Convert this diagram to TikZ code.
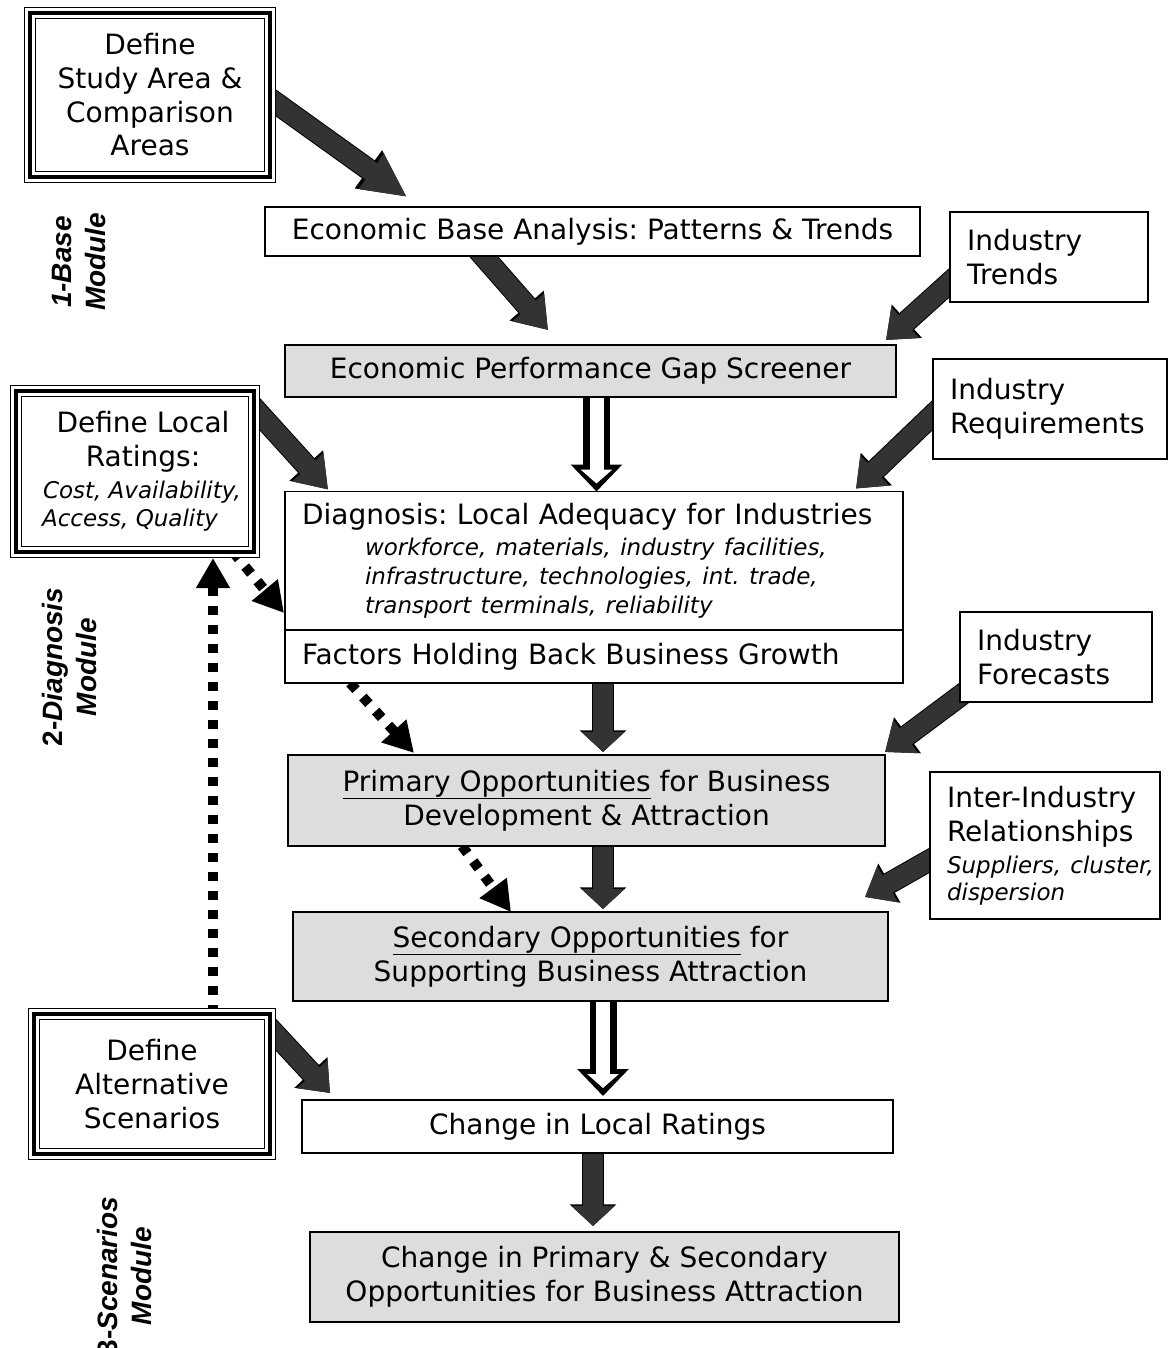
\documentclass[tikz,border=0pt]{standalone}
\usepackage{fontspec}
\setmainfont{DejaVu Sans}
\newfontfamily\labelfont{Liberation Sans}
\usetikzlibrary{%
  arrows.meta%
}
\definecolor{boxgray}{RGB}{221,221,221}
\definecolor{arrowgray}{RGB}{51,51,51}
\newcommand{\smallit}{\fontsize{23}{29}\selectfont\itshape}
\pgfdeclarelayer{bg}
\pgfsetlayers{bg,main}

\begin{document}
\frenchspacing
\begin{tikzpicture}[x=1pt,y=-1pt,
    box/.style={draw,line width=1.5pt,fill=white,inner sep=0pt,outer sep=0pt,
      font=\fontsize{28}{33.7}\selectfont,align=center},
    graybox/.style={box,fill=boxgray},
    sidebox/.style={box,align=left,inner xsep=17pt},
    triplebox/.style={preaction={fill=white},preaction={draw,line width=12pt},
      preaction={draw=white,line width=9.5pt},draw,line width=4.5pt,
      inner sep=0pt,outer sep=0pt,font=\fontsize{28}{33.7}\selectfont,align=center},
    modlabel/.style={rotate=90,align=center,font=\labelfont\bfseries\fontsize{28}{34}\selectfont},
    blockarrow/.style={draw=arrowgray,line width=20pt,-{Triangle[length=#1,width=40pt]},
      preaction={draw=black,line width=22pt,-{Triangle[length=#1,width=40pt,scale=1.08]}}},
    blockarrow/.default=26pt,
    shortblock/.style={draw=arrowgray,line width=20pt,-{Triangle[length=20pt,width=42pt]},
      preaction={draw=black,line width=22pt,-{Triangle[length=20pt,width=42pt,scale=1.08]}}},
    hollowarrow/.style={draw=black,line width=27pt,-{Triangle[length=27pt,width=50pt]},
      postaction={draw=white,line width=14pt,shorten >=8pt,-{Triangle[length=14pt,width=31pt]}}},
    dotarrow/.style={draw=black,line width=10pt,dash pattern=on 9pt off 10pt,
      -{Triangle[length=30pt,width=32pt]}}]
    \useasboundingbox (0,0) rectangle (1173,1348);

    % 1-Base Module
    \node [triplebox,minimum width=240pt,minimum height=164pt] (study) at (150,95)
      {Define\\Study Area \&\\Comparison\\Areas};
    \node [box,minimum width=655pt,minimum height=49pt] (ecbase) at (592.5,231.5)
      {Economic Base Analysis: Patterns \& Trends};
    \node [sidebox,text width=164pt,minimum height=90pt] (trends) at (1049,257)
      {Industry\\Trends};
    \node [graybox,minimum width=611pt,minimum height=52pt] (gap) at (590.5,371)
      {Economic Performance Gap Screener};
    \node [modlabel] (base) at (79,262) {\textit{1-Base}\\\textit{Module}};

    % 2-Diagnosis Module
    \node [sidebox,text width=200pt,minimum height=100pt] (req) at (1050,409)
      {Industry\\Requirements};
    \node [triplebox,minimum width=238pt,minimum height=161pt] (ratings) at (135,471.5)
      {\hspace*{16pt}Define Local\\\hspace*{16pt}Ratings:\\[-2pt]
       \smallit\hspace*{14pt}Cost, Availability,\\[-5pt]\smallit\hspace*{14pt}Access, Quality\hspace*{24pt}};
    \node [sidebox,text width=584pt,minimum height=139pt] (diag) at (594,561)
      {Diagnosis: Local Adequacy for Industries\\[1.5pt]
       \smallit\hspace*{63pt}workforce, materials, industry facilities,\\
       \smallit\hspace*{63pt}infrastructure, technologies, int. trade,\\
       \smallit\hspace*{63pt}transport terminals, reliability\par};
    \node [sidebox,text width=584pt,minimum height=53pt] (factors) at (594,656.5)
      {Factors Holding Back Business Growth};
    \node [sidebox,text width=158pt,minimum height=90pt] (forecasts) at (1056,657)
      {Industry\\Forecasts};
    \node [graybox,minimum width=597pt,minimum height=91pt] (primary) at (586.5,800.5)
      {\underline{Primary Opportunities} for Business\\Development \& Attraction};
    \node [sidebox,text width=196pt,minimum height=147pt] (interind) at (1045,845.5)
      {Inter-Industry\\[0.5pt]Relationships\\[3pt]
       \smallit\mbox{Suppliers, cluster,}\\[-2pt]\smallit dispersion\par};
    \node [graybox,minimum width=595pt,minimum height=89pt] (secondary) at (590.5,956.5)
      {\underline{Secondary Opportunities} for\\Supporting Business Attraction};
    \node [modlabel] (diagmod) at (69,667) {2-\textit{Diagnosis}\\\textit{Module}};

    % 3-Scenarios Module
    \node [triplebox,minimum width=236pt,minimum height=140pt] (alt) at (152,1084)
      {Define\\Alternative\\Scenarios};
    \node [box,minimum width=591pt,minimum height=53pt] (changelocal) at (597.5,1126.5)
      {Change in Local Ratings};
    \node [graybox,minimum width=589pt,minimum height=90pt] (changeopp) at (604.5,1277)
      {Change in Primary \& Secondary\\Opportunities for Business Attraction};
    \node [modlabel] (scenmod) at (124,1276) {3-\textit{Scenarios}\\\textit{Module}};

    \begin{pgfonlayer}{bg}
      \draw [blockarrow=44pt] ([xshift=-8pt,yshift=2pt]study.east)
        -- ([xshift=142pt,yshift=10pt]ecbase.north west);
      \draw [blockarrow=30pt] ([xshift=-114.5pt,yshift=6pt]ecbase.south)
        -- ([xshift=-42.5pt,yshift=15pt]gap.north);
      \draw [blockarrow] ([xshift=8pt,yshift=-18pt]trends.west)
        -- ([xshift=-10pt,yshift=5pt]gap.north east);
      \draw [blockarrow] ([xshift=8pt,yshift=2pt]req.west)
        -- ([xshift=-47pt,yshift=3pt]diag.north east);
      \draw [blockarrow=30pt] ([xshift=-8pt,yshift=-8pt]ratings.north east)
        -- ([xshift=43pt,yshift=2pt]diag.north west);
      \draw [shortblock] ([xshift=9pt,yshift=5pt]factors.south)
        -- ([xshift=16.5pt,yshift=3pt]primary.north);
      \draw [blockarrow] ([xshift=8pt,yshift=-33pt]forecasts.west)
        -- ([yshift=3pt]primary.north east);
      \draw [shortblock] ([xshift=16.5pt,yshift=5pt]primary.south)
        -- ([xshift=12.5pt,yshift=3pt]secondary.north);
      \draw [blockarrow] ([xshift=8pt,yshift=-10pt]interind.west)
        -- ([xshift=-23pt,yshift=15pt]secondary.north east);
      \draw [blockarrow] ([xshift=-6pt,yshift=-8pt]alt.north east)
        -- ([xshift=28pt,yshift=7pt]changelocal.north west);
      \draw [shortblock] ([xshift=-4.5pt,yshift=5pt]changelocal.south)
        -- ([xshift=-11.5pt,yshift=6pt]changeopp.north);

      \draw [hollowarrow] ([xshift=6pt]gap.south) -- ([xshift=2.5pt]diag.north);
      \draw [hollowarrow] ([xshift=12.5pt]secondary.south)
        -- ([xshift=5.5pt,yshift=4pt]changelocal.north);

      \draw [dotarrow] ([xshift=-21pt]ratings.south east)
        -- ([xshift=-1pt,yshift=-52pt]diag.west);
      \draw [dotarrow] ([xshift=65pt]factors.south west)
        -- ([xshift=126pt,yshift=2pt]primary.north west);
      \draw [dotarrow] ([xshift=174pt]primary.south west)
        -- ([xshift=218pt]secondary.north west);
      \draw [dotarrow] ([xshift=61pt]alt.north)
        -- ([xshift=78pt,yshift=-6pt]ratings.south);
    \end{pgfonlayer}
  \end{tikzpicture}
\end{document}
